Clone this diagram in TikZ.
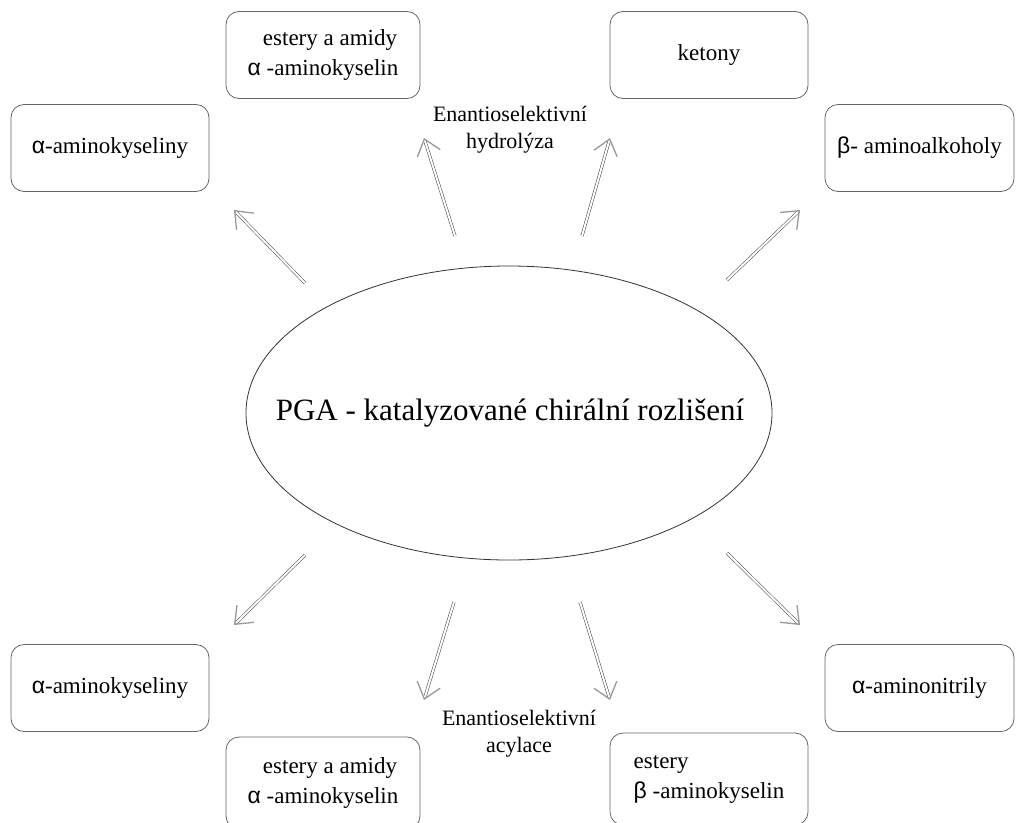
\documentclass[tikz,border=0pt]{standalone}
\usepackage{fontspec}
\setmainfont{Liberation Serif}
\newfontfamily\gr{Liberation Sans}
\usetikzlibrary{arrows.meta,calc}
\tikzset{
  box/.style={draw=black!60, line width=0.8pt, rounded corners=13pt, minimum width=198pt, minimum height=87pt, inner sep=0pt, font=\fontsize{23}{30}\selectfont},
  lbl/.style={font=\fontsize{22}{27}\selectfont, align=center},
  dbl/.style={draw=black!75, line width=0.5pt, double=white, double distance=2pt},
  tip/.style={-{Straight Barb[length=15pt, width=24pt, line width=1.3pt]}, draw=black!40, line width=0.01pt},
}
\begin{document}
\begin{tikzpicture}[x=1pt,y=-1pt]
\useasboundingbox (0,0) rectangle (1016,822);
\clip (0,0) rectangle (1016,822);
\node[inner sep=0pt, font=\fontsize{31}{36}\selectfont] (pga) at (510,413) {PGA - katalyzované chirální rozlišení};
\draw[black!80, line width=0.8pt] (509,413) ellipse [x radius=263, y radius=147];

\node[box] (b1) at (110,148) {{\gr α}-aminokyseliny};
\node[box, minimum width=194pt, align=center] (b2) at (323,55) {\hspace*{14pt}estery a amidy\\{\gr α} -aminokyselin};
\node[box] (b3) at (709,55) {ketony};
\node[box, minimum width=189pt] (b4) at (919.5,148) {{\gr β}- aminoalkoholy};
\node[box] (b5) at (110,688) {{\gr α}-aminokyseliny};
\node[box, minimum width=189pt] (b6) at (919.5,688) {{\gr α}-aminonitrily};
\node[box, minimum width=194pt, minimum height=92pt, align=center] (b7) at (323,783) {\hspace*{14pt}estery a amidy\\{\gr α} -aminokyselin};
\node[box, minimum height=92pt, align=left] (b8) at (709,779) {estery\\{\gr β} -aminokyselin};

\node[lbl] (h) at (510,130) {Enantioselektivní\\hydrolýza};
\node[lbl] (a) at (519,734) {Enantioselektivní\\acylace};

\foreach \n/\tx/\ty/\hx/\hy in {
  1/305/283/234/210, 2/455/236/424/138, 3/582/236/610/138, 4/727/280/800/210,
  5/305/555/234/625, 6/454/602/424/700, 7/580/602/610/700, 8/727/553/800/625}{
  \coordinate (t\n) at (\tx,\ty);
  \coordinate (e\n) at (\hx,\hy);
  \draw[dbl] (t\n) -- ($(e\n)!2pt!(t\n)$);
  \draw[tip] ($(e\n)!1pt!(t\n)$) -- (e\n);
}
\end{tikzpicture}
\end{document}
